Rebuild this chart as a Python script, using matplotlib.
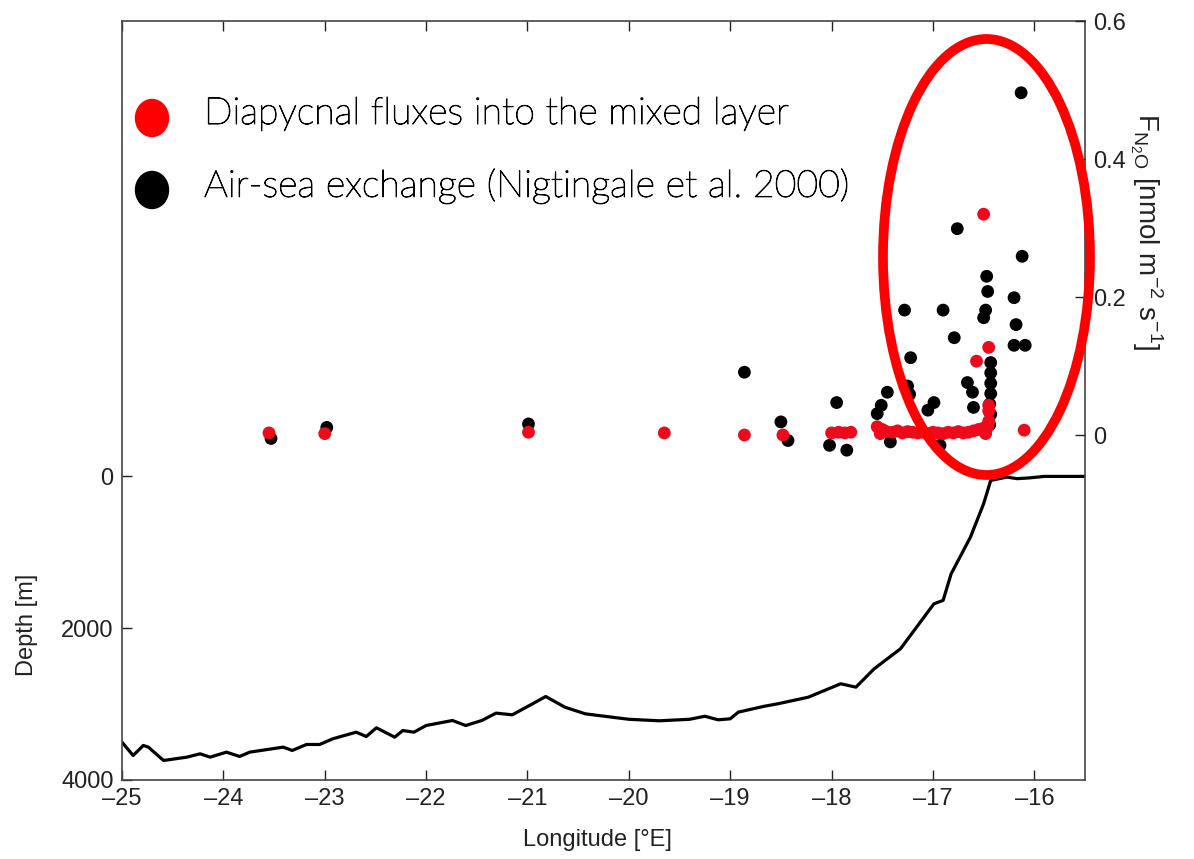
import matplotlib
matplotlib.use("Agg")
import matplotlib.pyplot as plt
import matplotlib.patheffects as pe
from matplotlib.patches import Ellipse

# ---- data ----
bathy_lon = [-25.0, -24.89, -24.79, -24.74, -24.59, -24.36, -24.23, -24.13, -23.97, -23.84,
             -23.74, -23.41, -23.32, -23.18, -23.05, -22.92, -22.69, -22.59, -22.49, -22.31,
             -22.23, -22.12, -22.00, -21.74, -21.61, -21.45, -21.31, -21.15, -20.95, -20.82,
             -20.63, -20.43, -20.30, -20.0, -19.7, -19.4, -19.25, -19.12, -19.0, -18.92,
             -18.67, -18.53, -18.23, -17.91, -17.76, -17.58, -17.32, -16.99, -16.90, -16.82,
             -16.63, -16.50, -16.43, -16.27, -16.17, -16.05, -15.9, -15.5]
bathy_depth = [3502, 3677, 3545, 3567, 3743, 3699, 3655, 3699, 3633, 3690,
               3633, 3567, 3611, 3532, 3532, 3457, 3370, 3427, 3312, 3436,
               3348, 3370, 3282, 3216, 3282, 3216, 3119, 3141, 2996, 2900,
               3041, 3128, 3150, 3200, 3220, 3200, 3160, 3207, 3194, 3106,
               3030, 2996, 2909, 2732, 2777, 2535, 2271, 1678, 1634, 1282,
               800, 360, 53, 9, 30, 20, 0, 0]

airsea_lon = [-23.53, -22.98, -20.99, -18.86, -18.50, -18.43, -17.95, -18.02, -17.85, -17.55,
              -17.51, -17.45, -17.42, -17.28, -17.25, -17.23, -17.22, -17.05, -16.99, -16.93,
              -16.90, -16.79, -16.76, -16.66, -16.61, -16.60, -16.50, -16.48, -16.46, -16.47,
              -16.43, -16.43, -16.43, -16.43, -16.44, -16.43, -16.44, -16.20, -16.18, -16.20,
              -16.09, -16.12, -16.13]
airsea_flux = [-0.005, 0.011, 0.016, 0.091, 0.019, -0.008, 0.047, -0.015, -0.022, 0.031,
               0.043, 0.062, -0.010, 0.181, 0.071, 0.059, 0.112, 0.036, 0.047, -0.015,
               0.181, 0.141, 0.299, 0.076, 0.062, 0.040, 0.170, 0.181, 0.208, 0.230,
               0.105, 0.090, 0.075, 0.060, 0.045, 0.030, 0.015, 0.199, 0.160, 0.130,
               0.130, 0.259, 0.496]

diapyc_lon = [-23.55, -23.00, -20.99, -19.65, -18.86, -18.48, -18.00, -17.93, -17.87, -17.81,
              -17.55, -17.50, -17.46, -17.40, -17.35, -17.30, -17.25, -17.20, -17.15, -17.10,
              -17.05, -17.00, -16.95, -16.90, -16.85, -16.80, -16.75, -16.70, -16.65, -16.60,
              -16.55, -16.50, -16.46, -16.45, -16.45, -16.45, -16.57, -16.45, -16.50, -16.10,
              -17.52, -16.48]
diapyc_flux = [0.003, 0.002, 0.004, 0.003, 0.000, 0.000, 0.003, 0.004, 0.003, 0.004,
               0.012, 0.008, 0.005, 0.004, 0.006, 0.003, 0.005, 0.004, 0.003, 0.004,
               0.002, 0.004, 0.003, 0.002, 0.004, 0.003, 0.005, 0.003, 0.004, 0.006,
               0.008, 0.010, 0.012, 0.020, 0.035, 0.043, 0.107, 0.127, 0.320, 0.007,
               0.002, 0.002]

x_ticks = [-25, -24, -23, -22, -21, -20, -19, -18, -17, -16]
depth_ticks = [0, 2000, 4000]
flux_ticks = [0, 0.2, 0.4, 0.6]

legend_labels = ["Diapycnal fluxes into the mixed layer",
                 "Air-sea exchange (Nigtingale et al. 2000)"]

# ---- figure ----
W, H = 1194, 859
fig = plt.figure(figsize=(W / 100, H / 100), dpi=100)
tick_font = ["Liberation Sans Narrow", "Liberation Sans", "DejaVu Sans"]
plt.rcParams["font.family"] = tick_font

ax = fig.add_axes([122 / W, 1 - 780 / H, (1085 - 122) / W, (780 - 21) / H])
ax.plot(bathy_lon, bathy_depth, color="black", lw=2.3, zorder=2)
ax.set_xlim(-25, -15.5)
ax.set_ylim(4000, -6000)
ax.set_xticks(x_ticks)
ax.set_xticklabels([f"\u2013{abs(v)}" for v in x_ticks])
ax.set_yticks(depth_ticks)
ax.tick_params(axis="both", direction="in", length=7, width=1, labelsize=17,
               top=True, right=True, colors="#222222", pad=6)
for s in ax.spines.values():
    s.set_linewidth(1.2)
    s.set_color("#444444")

ax2 = ax.twinx()
ax2.set_ylim(-0.5, 0.6)
ax2.set_yticks(flux_ticks)
ax2.set_yticklabels(["0", "0.2", "0.4", "0.6"])
ax2.tick_params(axis="y", direction="in", length=7, width=1, labelsize=17,
                colors="#222222", pad=6)
for s in ax2.spines.values():
    s.set_visible(False)

ax2.scatter(airsea_lon, airsea_flux, s=85, color="black", edgecolors="none", zorder=3)
ax2.scatter(diapyc_lon, diapyc_flux, s=85, color="#ee0a1a", edgecolors="none", zorder=4)

# axis labels
fig.text(597 / W, 1 - 840 / H, "Longitude [\u00b0E]", ha="center", va="center",
         fontsize=17, color="#222222")
fig.text(27 / W, 1 - 625 / H, "Depth [m]", ha="center", va="center", rotation=90,
         fontsize=17, color="#222222")
fig.text(1146 / W, 1 - 232 / H,
         r"F$_{\mathregular{N_2O}}$ [nmol m$^{\mathregular{-2}}$ s$^{\mathregular{-1}}$]",
         ha="center", va="center", rotation=270, fontsize=20, color="#222222")

# legend overlay
leg_font = ["Lato", "DejaVu Sans"]
for ypix, col, lab in [(118, "red", legend_labels[0]), (190, "black", legend_labels[1])]:
    fig.patches.append(Ellipse((152 / W, 1 - ypix / H), 33 / W, 37 / H,
                               transform=fig.transFigure, color=col))
    fig.text(204 / W, 1 - (ypix - 4) / H, lab, ha="left", va="center", fontsize=27,
             family=leg_font, fontweight="light", color="black",
             path_effects=[pe.withStroke(linewidth=0.7, foreground="black")])

# red highlight ellipse
fig.patches.append(Ellipse((986.5 / W, 1 - 257 / H), 207 / W, 436 / H,
                           transform=fig.transFigure, fill=False,
                           edgecolor="red", lw=7))

fig.savefig("out.png", dpi=100)
